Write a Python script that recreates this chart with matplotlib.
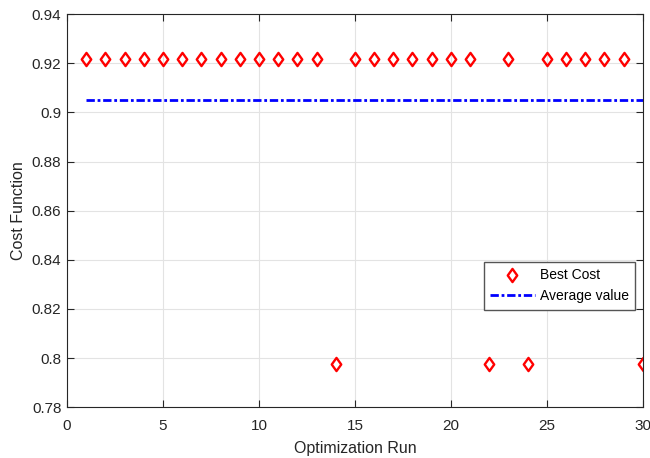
import matplotlib
matplotlib.use('Agg')
import matplotlib.pyplot as plt
import numpy as np
from matplotlib.ticker import FuncFormatter
from matplotlib.path import Path

plt.rcParams['font.family'] = ['Liberation Sans', 'DejaVu Sans']

# 数据
runs = np.arange(1, 31)
best_cost = [0.9216] * 13 + [0.7977] + [0.9216] * 7 + [0.7977, 0.9216, 0.7977] + [0.9216] * 5 + [0.7977]
avg_value = np.mean(best_cost)

# MATLAB 风格菱形
diamond = Path([(0, 1), (0.72, 0), (0, -1), (-0.72, 0), (0, 1)],
               [Path.MOVETO, Path.LINETO, Path.LINETO, Path.LINETO, Path.CLOSEPOLY])

fig = plt.figure(figsize=(6.5, 4.58), dpi=100)
ax = fig.add_axes([0.103, 0.111, 0.886, 0.858])

ax.plot(runs, best_cost, linestyle='none', marker=diamond, markersize=9.5, mfc='none',
        mec='red', mew=1.7, label='Best Cost')
ax.plot(runs, [avg_value] * len(runs), color='blue', linestyle=(0, (3, 1, 1, 1)),
        linewidth=2.0, label='Average value')

ax.set_xlim(0, 30)
ax.set_ylim(0.78, 0.94)
ax.set_xticks(np.arange(0, 31, 5))
ax.set_yticks(np.arange(0.78, 0.9401, 0.02))
ax.yaxis.set_major_formatter(FuncFormatter(lambda v, p: f'{v:g}'))
ax.grid(True, color='#e3e3e3', linewidth=0.8)
ax.set_axisbelow(True)
ax.tick_params(direction='in', top=True, right=True, labelsize=11, colors='#262626',
               length=5)
ax.tick_params(axis='x', pad=8.5)
ax.tick_params(axis='y', pad=4)
for s in ax.spines.values():
    s.set_color('#262626')
ax.set_xlabel('Optimization Run', fontsize=11.5, color='#262626', labelpad=6)
ax.set_ylabel('Cost Function', fontsize=11.5, color='#262626')

ax.legend(loc='upper left', bbox_to_anchor=(0.724, 0.369), borderaxespad=0,
          fancybox=False, edgecolor='#555555', fontsize=10, handlelength=3.2,
          handletextpad=0.4, borderpad=0.45, framealpha=1)

plt.savefig('out.png', dpi=100)
